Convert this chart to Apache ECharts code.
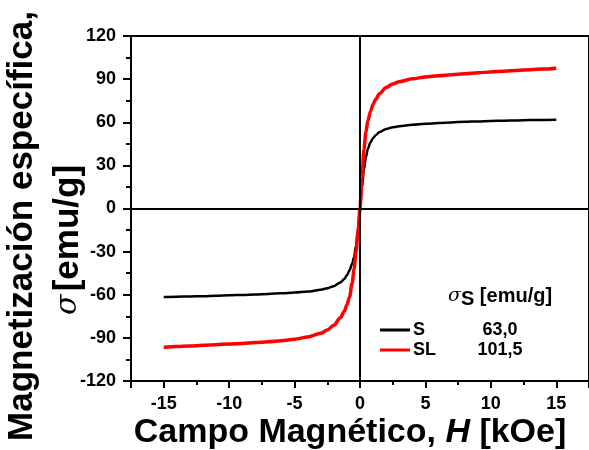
<!DOCTYPE html>
<html>
<head>
<meta charset="utf-8">
<script src="https://cdn.jsdelivr.net/npm/echarts@6/dist/echarts.min.js"></script>
<style>
  html, body { margin: 0; padding: 0; background: #fff; }
  #main { width: 589px; height: 450px; }
</style>
</head>
<body>
<div id="main"></div>
<script>
// campo magnético H [kOe] y magnetización σ [emu/g]
var hS = [-15, -14, -13, -12, -11, -10, -9, -8, -7, -6, -5, -4, -3, -2.5, -2, -1.5, -1.2, -1, -0.8, -0.6, -0.45, -0.3, -0.15,
  0, 0.15, 0.3, 0.45, 0.6, 0.8, 1, 1.2, 1.5, 2, 2.5, 3, 4, 5, 6, 7, 8, 9, 10, 11, 12, 13, 14, 15];
var sigmaS = [-61.6, -61.4, -61.2, -61.0, -60.7, -60.4, -60.1, -59.8, -59.4, -59.0, -58.5, -57.8, -56.5, -55.5, -54.0, -51.5, -49.0, -46.5, -43.0, -38.5, -33.5, -25.5, -14.0,
  0, 14.5, 27.0, 35.5, 41.5, 46.0, 49.0, 51.0, 53.3, 55.3, 56.5, 57.3, 58.2, 58.9, 59.5, 59.9, 60.3, 60.6, 60.9, 61.1, 61.3, 61.5, 61.6, 61.7];

var hSL = [-15, -14, -13, -12, -11, -10, -9, -8, -7, -6, -5, -4, -3, -2.5, -2, -1.5, -1.2, -1, -0.8, -0.6, -0.45, -0.3, -0.15,
  0, 0.15, 0.3, 0.45, 0.6, 0.8, 1, 1.2, 1.5, 2, 2.5, 3, 4, 5, 6, 7, 8, 9, 10, 11, 12, 13, 14, 15];
var sigmaSL = [-96.6, -96.0, -95.7, -95.1, -94.8, -94.2, -93.9, -93.3, -92.7, -92.0, -90.9, -89.4, -86.8, -84.6, -81.2, -76.0, -71.5, -67.0, -61.5, -52.0, -42.0, -30.0, -16.0,
  0, 21.0, 41.0, 53.0, 61.0, 67.5, 72.5, 76.0, 80.0, 84.2, 86.6, 88.2, 90.2, 91.5, 92.4, 93.1, 93.7, 94.4, 95.0, 95.5, 96.0, 96.6, 97.0, 97.6];

var muestras = ['S', 'SL'];
var sigmaSat = ['63,0', '101,5'];

function pares(h, s) {
  return h.map(function (v, i) { return [v, s[i]]; });
}

var font = '"Liberation Sans", Arial, sans-serif';
var myChart = echarts.init(document.getElementById('main'));
myChart.setOption({
  animation: false,
  backgroundColor: '#fff',
  grid: {
    left: 131, top: 36, right: -4, bottom: 69,
    show: true, borderColor: '#000', borderWidth: 2
  },
  xAxis: {
    type: 'value',
    min: -17.5,
    max: 17.5,
    splitNumber: 7,
    axisLine: { onZero: false, lineStyle: { color: '#000', width: 2 } },
    axisTick: { show: true, inside: false, length: 7, lineStyle: { color: '#000', width: 2 } },
    minorTick: { show: true, splitNumber: 2, length: 4, lineStyle: { color: '#000', width: 2 } },
    splitLine: { show: false },
    axisLabel: {
      color: '#000', fontFamily: font, fontWeight: 'bold', fontSize: 18, margin: 14,
      showMinLabel: false, showMaxLabel: false
    }
  },
  yAxis: {
    type: 'value',
    min: -120,
    max: 120,
    interval: 30,
    axisLine: { onZero: false, lineStyle: { color: '#000', width: 2 } },
    axisTick: { show: true, inside: false, length: 8, lineStyle: { color: '#000', width: 2 } },
    minorTick: { show: true, splitNumber: 2, length: 5, lineStyle: { color: '#000', width: 2 } },
    splitLine: { show: false },
    axisLabel: { color: '#000', fontFamily: font, fontWeight: 'bold', fontSize: 18, margin: 15 }
  },
  legend: {
    data: muestras,
    orient: 'vertical',
    left: 375,
    top: 316,
    icon: 'rect',
    itemWidth: 30,
    itemHeight: 3,
    itemGap: 2,
    formatter: function (name) {
      return '{n|' + name + '}{v|' + sigmaSat[muestras.indexOf(name)] + '}';
    },
    textStyle: {
      padding: [0, 0, 0, -2],
      rich: {
        n: { width: 64, lineHeight: 20, fontFamily: font, fontWeight: 'bold', fontSize: 18, color: '#000' },
        v: { width: 46, lineHeight: 20, align: 'center', fontFamily: font, fontWeight: 'bold', fontSize: 18, color: '#000' }
      }
    }
  },
  graphic: [
    {
      type: 'text',
      x: 448, y: 296,
      style: {
        text: '{g|σ}{s|S}{t| [emu/g]}',
        verticalAlign: 'middle',
        rich: {
          g: { fontFamily: '"DejaVu Serif", serif', fontStyle: 'italic', fontSize: 19, fill: '#000' },
          s: { fontFamily: font, fontWeight: 'bold', fontSize: 20, fill: '#000', padding: [6, 0, 0, 0] },
          t: { fontFamily: font, fontWeight: 'bold', fontSize: 20, fill: '#000' }
        }
      }
    },
    {
      type: 'text',
      x: 350, y: 433,
      style: {
        text: '{a|Campo Magnético, }{i|H}{a| [kOe]}',
        align: 'center',
        verticalAlign: 'middle',
        rich: {
          a: { fontFamily: font, fontWeight: 'bold', fontSize: 34, fill: '#000' },
          i: { fontFamily: font, fontWeight: 'bold', fontStyle: 'italic', fontSize: 34, fill: '#000' }
        }
      }
    },
    {
      type: 'text',
      x: 22, y: 226,
      rotation: Math.PI / 2,
      style: {
        text: 'Magnetización específica,',
        align: 'center',
        verticalAlign: 'middle',
        fontFamily: font, fontWeight: 'bold', fontSize: 35, fill: '#000'
      }
    },
    {
      type: 'text',
      x: 68, y: 240,
      rotation: Math.PI / 2,
      style: {
        text: '{g|σ} {a|[emu/g]}',
        align: 'center',
        verticalAlign: 'middle',
        rich: {
          g: { fontFamily: '"DejaVu Serif", serif', fontStyle: 'italic', fontSize: 30, fill: '#000' },
          a: { fontFamily: font, fontWeight: 'bold', fontSize: 35, fill: '#000' }
        }
      }
    }
  ],
  series: [
    {
      name: 'ejes',
      type: 'line',
      data: [],
      z: 1,
      markLine: {
        silent: true,
        symbol: 'none',
        label: { show: false },
        lineStyle: { color: '#000', width: 2, type: 'solid' },
        data: [{ xAxis: 0 }, { yAxis: 0 }]
      }
    },
    {
      name: 'S',
      type: 'line',
      z: 2,
      data: pares(hS, sigmaS),
      showSymbol: false,
      symbol: 'none',
      smooth: 0.3,
      smoothMonotone: 'x',
      color: '#000',
      lineStyle: { color: '#000', width: 2.5 }
    },
    {
      name: 'SL',
      type: 'line',
      z: 3,
      data: pares(hSL, sigmaSL),
      showSymbol: false,
      symbol: 'none',
      smooth: 0.3,
      smoothMonotone: 'x',
      color: '#ff0000',
      lineStyle: { color: '#ff0000', width: 3.5 }
    }
  ]
});
</script>
</body>
</html>
